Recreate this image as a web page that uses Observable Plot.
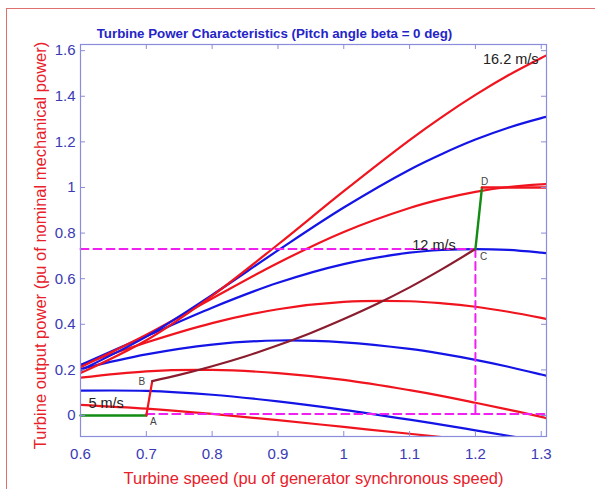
<!DOCTYPE html>
<html><head><meta charset="utf-8">
<script src="https://cdn.jsdelivr.net/npm/d3@7"></script>
<script src="https://cdn.jsdelivr.net/npm/@observablehq/plot@0.6"></script>
<style>
html,body{margin:0;padding:0;background:#fff;}
#wrap{position:relative;width:595px;height:489px;overflow:hidden;background:#fff;}
#border{position:absolute;left:6px;top:8px;width:640px;height:540px;border-left:1px solid #e07070;border-top:1px solid #e07070;pointer-events:none;}
</style></head><body><div id="wrap"><div id="border"></div></div>
<script>
// Turbine speed (pu) sample points
const speeds = [0.6, 0.7, 0.8, 0.9, 1.0, 1.1, 1.15, 1.2, 1.25, 1.3, 1.31];
// Wind speeds (m/s) for each curve
const windSpeeds = ["5", "6.4", "7.8", "9.2", "10.6", "12", "13.4", "14.8", "16.2"];
const curveColors = ["#f0141e", "#1414e6", "#f0141e", "#1414e6", "#f0141e", "#1414e6", "#f0141e", "#1414e6", "#f0141e"];
// Output power (pu) per wind speed
const p5    = [0.047, 0.030, 0.007, -0.020, -0.050, -0.080, -0.095, -0.110, -0.125, -0.140, -0.143];
const p6_4  = [0.109, 0.108, 0.091, 0.062, 0.025, -0.018, -0.041, -0.065, -0.089, -0.114, -0.119];
const p7_8  = [0.166, 0.194, 0.200, 0.186, 0.156, 0.111, 0.085, 0.056, 0.026, -0.006, -0.013];
const p9_2  = [0.204, 0.268, 0.311, 0.329, 0.321, 0.292, 0.270, 0.244, 0.214, 0.180, 0.173];
const p10_6 = [0.221, 0.320, 0.405, 0.466, 0.498, 0.501, 0.492, 0.477, 0.455, 0.428, 0.422];
const p12   = [0.222, 0.348, 0.473, 0.582, 0.664, 0.714, 0.726, 0.730, 0.726, 0.714, 0.711];
const p13_4 = [0.212, 0.354, 0.513, 0.669, 0.805, 0.910, 0.950, 0.981, 1.002, 1.014, 1.015];
const p14_8 = [0.199, 0.346, 0.529, 0.724, 0.912, 1.078, 1.148, 1.210, 1.262, 1.304, 1.311];
const p16_2 = [0.186, 0.330, 0.525, 0.750, 0.984, 1.208, 1.311, 1.406, 1.492, 1.568, 1.582];
const powerSeries = [p5, p6_4, p7_8, p9_2, p10_6, p12, p13_4, p14_8, p16_2];

// Operating trajectory
const greenStartSpeed = [0.6, 0.7];
const greenStartPower = [0, 0];
const rampSpeed = [0.7, 0.709];
const rampPower = [0, 0.151];
const mpptSpeed = [0.709, 0.75, 0.8, 0.85, 0.9, 0.95, 1.0, 1.05, 1.1, 1.15, 1.2];
const mpptPower = [0.151, 0.178, 0.216, 0.259, 0.308, 0.362, 0.423, 0.489, 0.562, 0.643, 0.730];
const greenEndSpeed = [1.2, 1.21];
const greenEndPower = [0.73, 1.0];
const limitSpeed = [1.21, 1.308];
const limitPower = [1.0, 1.0];

// Dashed guide lines
const guideH1Speed = [0.6, 1.2];  const guideH1Power = [0.73, 0.73];
const guideVSpeed = [1.2, 1.2];   const guideVPower = [0.73, 0.007];
const guideH2Speed = [0.7, 1.308]; const guideH2Power = [0.007, 0.007];

// Point labels
const pointLetters = ["A", "B", "C", "D"];
const pointSpeed = [0.7107, 0.693, 1.2125, 1.214];
const pointPower = [-0.029, 0.146, 0.697, 1.023];

// Wind speed labels
const windLabelText = ["5 m/s", "12 m/s", "16.2 m/s"];
const windLabelSpeed = [0.612, 1.104, 1.296];
const windLabelPower = [0.054, 0.746, 1.564];
const windLabelAnchor = ["start", "start", "end"];

const xTicks = [0.6, 0.7, 0.8, 0.9, 1.0, 1.1, 1.2, 1.3];
const yTicks = [0, 0.2, 0.4, 0.6, 0.8, 1.0, 1.2, 1.4, 1.6];

const titleText = "Turbine Power Characteristics (Pitch angle beta = 0 deg)";
const xLabelText = "Turbine speed (pu of generator synchronous speed)";
const yLabelText = "Turbine output power (pu of nominal mechanical power)";

// Build tables
const rows = [];
powerSeries.forEach((ps, i) => ps.forEach((p, j) => rows.push({w: speeds[j], p, v: windSpeeds[i], color: curveColors[i]})));
const pts = (xs, ys) => xs.map((x, i) => ({w: x, p: ys[i]}));

const W = 595, H = 489;
const mL = 80, mR = 49, mT = 44, mB = 53;
const plotW = W - mL - mR, plotH = H - mT - mB;
const axisBlue = "#3a3ab4";
const frameBlue = "#8c8cdc";
const fontFam = "'Liberation Sans', Arial, Helvetica, sans-serif";

const chart = Plot.plot({
  width: W, height: H,
  marginLeft: mL, marginRight: mR, marginTop: mT, marginBottom: mB,
  style: {fontFamily: fontFam, background: "transparent"},
  x: {domain: [0.6, 1.308], label: null},
  y: {domain: [-0.092, 1.627], label: null},
  marks: [
    Plot.line(rows, {x: "w", y: "p", z: "v", stroke: "color", strokeWidth: 2.2, curve: "catmull-rom", clip: true}),
    Plot.line(pts(guideH1Speed, guideH1Power), {x: "w", y: "p", stroke: "#f020f0", strokeWidth: 2, strokeDasharray: "8,5"}),
    Plot.line(pts(guideVSpeed, guideVPower), {x: "w", y: "p", stroke: "#f020f0", strokeWidth: 2, strokeDasharray: "8,5"}),
    Plot.line(pts(guideH2Speed, guideH2Power), {x: "w", y: "p", stroke: "#f020f0", strokeWidth: 2, strokeDasharray: "8,5"}),
    Plot.line(pts(greenStartSpeed, greenStartPower), {x: "w", y: "p", stroke: "#128c12", strokeWidth: 2.4}),
    Plot.line(pts(rampSpeed, rampPower), {x: "w", y: "p", stroke: "#f0141e", strokeWidth: 2.2}),
    Plot.line(pts(mpptSpeed, mpptPower), {x: "w", y: "p", stroke: "#8a1c2e", strokeWidth: 2.2, curve: "catmull-rom"}),
    Plot.line(pts(greenEndSpeed, greenEndPower), {x: "w", y: "p", stroke: "#128c12", strokeWidth: 2.4}),
    Plot.line(pts(limitSpeed, limitPower), {x: "w", y: "p", stroke: "#f0141e", strokeWidth: 2.6, clip: true}),
    Plot.frame({stroke: frameBlue, strokeWidth: 1.2}),
    Plot.tickX(xTicks, {x: d => d, stroke: frameBlue, insetTop: plotH - 5}),
    Plot.tickX(xTicks, {x: d => d, stroke: frameBlue, insetBottom: plotH - 5}),
    Plot.tickY(yTicks, {y: d => d, stroke: frameBlue, insetRight: plotW - 5}),
    Plot.tickY(yTicks, {y: d => d, stroke: frameBlue, insetLeft: plotW - 5}),
    Plot.axisX({ticks: xTicks, tickSize: 0, tickPadding: 12, fontSize: 15, fill: axisBlue, label: null, tickFormat: d => String(Math.round(d * 10) / 10)}),
    Plot.axisY({ticks: yTicks, tickSize: 0, tickPadding: 5, fontSize: 15, fill: axisBlue, label: null, tickFormat: d => String(Math.round(d * 10) / 10)}),
    Plot.text(pointLetters, {x: (d, i) => pointSpeed[i], y: (d, i) => pointPower[i], text: d => d, fontSize: 10, fill: "#444"}),
    Plot.text(windLabelText, {x: (d, i) => windLabelSpeed[i], y: (d, i) => windLabelPower[i], text: d => d, textAnchor: "start", fontSize: 14.5, fill: "#222", filter: (d, i) => windLabelAnchor[i] === "start"}),
    Plot.text(windLabelText, {x: (d, i) => windLabelSpeed[i], y: (d, i) => windLabelPower[i], text: d => d, textAnchor: "end", fontSize: 14.5, fill: "#222", filter: (d, i) => windLabelAnchor[i] === "end"}),
    Plot.text([titleText], {frameAnchor: "top", dx: -39, dy: -11, lineAnchor: "middle", fontSize: 13.3, fontWeight: "bold", fill: "#2424c8"}),
    Plot.text([xLabelText], {frameAnchor: "bottom", dy: 42, lineAnchor: "middle", fontSize: 16.5, fill: "#e8202a"}),
    Plot.text([yLabelText], {frameAnchor: "left", textAnchor: "middle", dx: -40, dy: 5, rotate: -90, lineAnchor: "middle", fontSize: 16.5, fill: "#e8202a"})
  ]
});
document.getElementById("wrap").prepend(chart);
</script>
</body></html>
